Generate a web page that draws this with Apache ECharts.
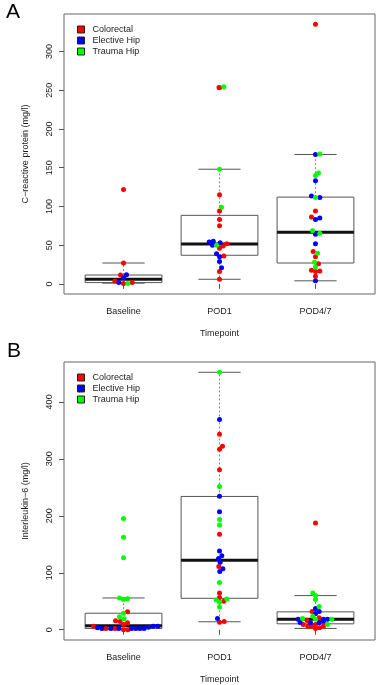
<!DOCTYPE html>
<html>
<head>
<meta charset="utf-8">
<script src="https://cdn.jsdelivr.net/npm/echarts@6/dist/echarts.min.js"></script>
<style>
  html, body { margin: 0; padding: 0; background: #fff; }
  #chart { width: 376px; height: 685px; }
</style>
</head>
<body>
<div id="chart"></div>
<script>
  var categories = ['Baseline', 'POD1', 'POD4/7'];
  var groupNames = ['Colorectal', 'Elective Hip', 'Trauma Hip'];
  var groupColors = ['#ff0000', '#0000ff', '#00ff00'];

  // box stats: [lower whisker, Q1, median, Q3, upper whisker]
  var crpBoxes = [[1, 1.7, 6, 11.5, 27], [6, 37, 51.6, 88.5, 148], [4, 27, 66.6, 112, 167]];
  var il6Boxes = [[0, 2.3, 7, 29, 55.8], [14, 55.2, 122, 234, 452], [2.3, 10.4, 18.5, 31.4, 60]];

  // points: [timepoint, jitter, value]
  var crpColorectal = [
    [1, 0, 122], [1, 0, 27], [1, -0.031, 11.6], [1, -0.09, 3.9], [1, 0, 0.4], [1, 0.09, 1.7],
    [2, -0.005, 253.5], [2, 0, 253], [2, 0, 115], [2, 0, 94], [2, 0, 83], [2, 0, 75], [2, 0.038, 49],
    [2, 0.076, 52], [2, 0, 46], [2, 0.045, 36], [2, 0, 16], [2, 0, 6],
    [3, 0, 335], [3, 0, 94], [3, -0.042, 86.5], [3, -0.024, 42], [3, 0, 35], [3, 0.031, 26],
    [3, -0.042, 17.6], [3, 0, 16], [3, 0.045, 16.8], [3, 0, 10]
  ];
  var crpElective = [
    [1, 0.031, 12], [1, 0, 8], [1, -0.049, 1.7],
    [2, -0.108, 54], [2, -0.065, 55], [2, -0.073, 50], [2, 0.007, 53], [2, -0.031, 39], [2, 0, 35],
    [2, 0, 29], [2, 0.021, 21],
    [3, 0, 167], [3, 0, 133], [3, -0.042, 113.5], [3, 0.045, 111.5], [3, 0, 83], [3, 0.045, 85],
    [3, 0, 64], [3, 0, 52], [3, 0, 4]
  ];
  var crpTrauma = [
    [1, 0.045, 0.4],
    [2, 0.045, 254.5], [2, 0, 148], [2, 0.021, 99], [2, -0.031, 50],
    [3, 0.045, 167.5], [3, 0.031, 143], [3, 0, 140], [3, 0, 111.5], [3, -0.031, 68.5], [3, 0.045, 65.5],
    [3, 0.021, 39.5], [3, -0.01, 28], [3, 0, 22]
  ];

  var il6Colorectal = [
    [1, 0.042, 31.5], [1, -0.083, 15.7], [1, -0.035, 14.5], [1, 0.042, 12.2], [1, 0, 9.2],
    [1, -0.3125, 6.3], [1, -0.184, 2.3], [1, -0.09, 2.3], [1, 0, 0], [1, 0.045, 0],
    [2, 0, 343], [2, 0, 317], [2, 0.031, 322], [2, 0, 281], [2, 0, 167.5], [2, -0.007, 111],
    [2, 0, 64.5], [2, 0, 56.4], [2, 0.045, 50], [2, 0, 13.3], [2, 0.049, 14.5],
    [3, 0, 187.3], [3, -0.035, 31.9], [3, 0.038, 20.9], [3, -0.087, 16.2], [3, -0.128, 9.2],
    [3, -0.08, 6.3], [3, -0.038, 6.3], [3, 0, 9.2], [3, 0.042, 3.5], [3, 0, 2.3], [3, 0.083, 6.3]
  ];
  var il6Elective = [
    [1, -0.271, 3.5], [1, -0.226, 2.3], [1, -0.132, 2.3], [1, -0.049, 2.3], [1, 0.083, 2.3],
    [1, 0.128, 2.3], [1, 0.17, 2.3], [1, 0.215, 2.3], [1, 0.26, 4.6], [1, 0.309, 6.3], [1, 0.358, 6.3],
    [2, 0, 369], [2, 0, 234.4], [2, 0, 207], [2, 0, 138.4], [2, 0.024, 129.7], [2, -0.01, 125],
    [2, 0.007, 118.6], [2, 0.035, 107], [2, 0.003, 102.3], [2, -0.021, 19.7],
    [3, 0, 37.2], [3, 0.038, 31.9], [3, 0, 27.9], [3, -0.18, 18.5], [3, 0.083, 18.5], [3, 0.125, 18.5],
    [3, -0.16, 12.7], [3, -0.052, 12.2], [3, 0.038, 12.2], [3, 0.083, 15]
  ];
  var il6Trauma = [
    [1, 0, 195.4], [1, 0, 162.3], [1, 0, 126.2], [1, -0.042, 55.8], [1, 0, 52.9], [1, 0.042, 54.6],
    [1, 0, 29], [1, -0.042, 22.7], [1, 0.007, 19.2],
    [2, 0, 452], [2, 0, 251.3], [2, 0, 193.7], [2, 0, 183.8], [2, 0, 83.1], [2, -0.035, 52.3],
    [2, 0.076, 54], [2, 0, 48.2], [2, 0, 40.1],
    [3, -0.028, 64.5], [3, 0, 60], [3, 0, 52.9], [3, 0.038, 40.7], [3, -0.028, 23.8], [3, -0.135, 19.7],
    [3, 0, 18.5], [3, 0.17, 18.5], [3, 0.125, 9.2]
  ];

  var crpTicks = [0, 50, 100, 150, 200, 250, 300];
  var il6Ticks = [0, 100, 200, 300, 400];

  var font = 'Liberation Sans, Arial, Helvetica, sans-serif';
  var ink = '#1a1a1a';

  var chart = echarts.init(document.getElementById('chart'));

  function toPoints(list) {
    return list.map(function (p) { return [p[0] + p[1], p[2]]; });
  }

  function boxData(boxes) {
    return boxes.map(function (b, i) { return [i + 1].concat(b); });
  }

  function renderBox(params, api) {
    var x = api.value(0);
    var lo = api.coord([x, api.value(1)]);
    var q1 = api.coord([x, api.value(2)]);
    var med = api.coord([x, api.value(3)]);
    var q3 = api.coord([x, api.value(4)]);
    var hi = api.coord([x, api.value(5)]);
    var left = api.coord([x - 0.4, 0])[0];
    var right = api.coord([x + 0.4, 0])[0];
    var capL = api.coord([x - 0.22, 0])[0];
    var capR = api.coord([x + 0.22, 0])[0];
    var cx = lo[0];
    var dash = { stroke: '#888', lineWidth: 1, lineDash: [2, 2] };
    var solid = { stroke: '#555', lineWidth: 1 };
    return {
      type: 'group',
      children: [
        { type: 'line', shape: { x1: cx, y1: q3[1], x2: cx, y2: hi[1] }, style: dash },
        { type: 'line', shape: { x1: cx, y1: q1[1], x2: cx, y2: lo[1] }, style: dash },
        { type: 'line', shape: { x1: capL, y1: hi[1], x2: capR, y2: hi[1] }, style: solid },
        { type: 'line', shape: { x1: capL, y1: lo[1], x2: capR, y2: lo[1] }, style: solid },
        { type: 'rect', shape: { x: left, y: q3[1], width: right - left, height: q1[1] - q3[1] },
          style: { fill: 'none', stroke: '#555', lineWidth: 1 } },
        { type: 'line', shape: { x1: left, y1: med[1], x2: right, y2: med[1] },
          style: { stroke: '#111', lineWidth: 3 } }
      ]
    };
  }

  function xAxisFor(gridIndex) {
    return {
      type: 'value', gridIndex: gridIndex, min: 0.38, max: 3.62,
      axisLine: { show: false },
      splitLine: { show: false },
      axisTick: { show: true, customValues: [1, 2, 3], length: 5, lineStyle: { color: '#555' } },
      axisLabel: {
        customValues: [1, 2, 3], margin: 13, fontSize: 9, fontFamily: font, color: ink,
        formatter: function (v) { return categories[Math.round(v) - 1]; }
      },
      name: 'Timepoint', nameLocation: 'middle', nameGap: 35,
      nameTextStyle: { fontSize: 9, fontFamily: font, color: ink }
    };
  }

  function yAxisFor(gridIndex, min, max, ticks, title) {
    return {
      type: 'value', gridIndex: gridIndex, min: min, max: max,
      axisLine: { show: false },
      splitLine: { show: false },
      axisTick: { show: true, customValues: ticks, length: 5, lineStyle: { color: '#555' } },
      axisLabel: { customValues: ticks, rotate: 90, margin: 10, fontSize: 9, fontFamily: font, color: ink },
      name: title, nameLocation: 'middle', nameGap: 34,
      nameTextStyle: { fontSize: 9, fontFamily: font, color: ink }
    };
  }

  function legendFor(top) {
    return {
      orient: 'vertical', left: 72, top: top, itemWidth: 7, itemHeight: 7, itemGap: 2,
      icon: 'rect', data: groupNames, selectedMode: false,
      itemStyle: { borderColor: '#222', borderWidth: 1 },
      textStyle: { fontSize: 9, fontFamily: font, color: ink, padding: [0, 0, 0, 3] }
    };
  }

  var panels = [
    [crpColorectal, crpElective, crpTrauma],
    [il6Colorectal, il6Elective, il6Trauma]
  ];

  var series = [
    { type: 'custom', xAxisIndex: 0, yAxisIndex: 0, data: boxData(crpBoxes), renderItem: renderBox,
      encode: { x: 0, y: [1, 2, 3, 4, 5] }, z: 1, silent: true },
    { type: 'custom', xAxisIndex: 1, yAxisIndex: 1, data: boxData(il6Boxes), renderItem: renderBox,
      encode: { x: 0, y: [1, 2, 3, 4, 5] }, z: 1, silent: true }
  ];
  panels.forEach(function (groups, p) {
    groups.forEach(function (list, g) {
      series.push({
        type: 'scatter', name: groupNames[g], xAxisIndex: p, yAxisIndex: p,
        data: toPoints(list), symbol: 'circle', symbolSize: 5,
        itemStyle: { color: groupColors[g], opacity: 1 }, z: 3
      });
    });
  });

  chart.setOption({
    animation: false,
    backgroundColor: '#fff',
    title: [
      { text: 'A', left: 1, top: -3, textStyle: { fontSize: 21, fontWeight: 'normal', fontFamily: font, color: '#000' } },
      { text: 'B', left: 2, top: 336, textStyle: { fontSize: 21, fontWeight: 'normal', fontFamily: font, color: '#000' } }
    ],
    legend: [legendFor(20), legendFor(368)],
    grid: [
      { left: 64, top: 14, width: 311, height: 280, show: true, borderColor: '#666', borderWidth: 1, backgroundColor: 'transparent' },
      { left: 64, top: 362, width: 311, height: 280, show: true, borderColor: '#666', borderWidth: 1, backgroundColor: 'transparent' }
    ],
    xAxis: [xAxisFor(0), xAxisFor(1)],
    yAxis: [
      yAxisFor(0, -13, 348.3, crpTicks, 'C\u2212reactive protein (mg/l)'),
      yAxisFor(1, -18, 470, il6Ticks, 'Interleukin\u22126 (mg/l)')
    ],
    series: series
  });
</script>
</body>
</html>
